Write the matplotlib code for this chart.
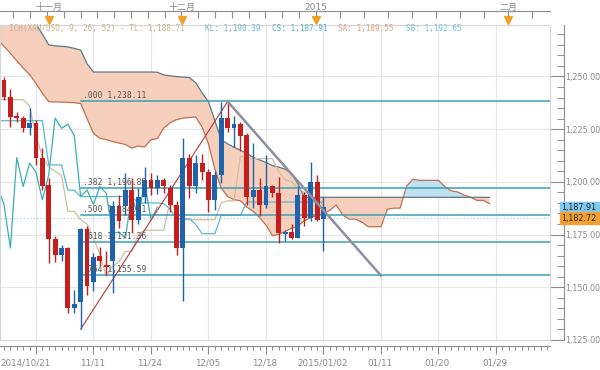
import matplotlib
matplotlib.use("Agg")
import numpy as np
from matplotlib import pyplot as plt
from matplotlib import transforms as mtrans
from matplotlib.patches import Rectangle
from matplotlib.ticker import MultipleLocator, FixedLocator, NullFormatter, FuncFormatter

plt.rcParams['font.family'] = ['DejaVu Sans', 'Noto Sans CJK SC']

# daily candles, bar 0 = first visible candle
opens = [1248.3, 1240.4, 1231.3, 1230.5, 1225.4, 1227.8, 1211.5, 1198.6, 1173.0, 1165.1,
         1168.6, 1140.1, 1143.0, 1177.7, 1152.6, 1164.6, 1160.7, 1162.2, 1188.3, 1188.3,
         1196.2, 1182.0, 1193.0, 1201.0, 1197.0, 1201.0, 1197.0, 1189.1, 1168.6, 1211.5,
         1197.8, 1208.9, 1204.6, 1191.5, 1203.3, 1230.2, 1225.4, 1227.3, 1222.3, 1193.0,
         1196.2, 1189.1, 1197.8, 1194.6, 1175.2, 1176.2, 1173.3, 1193.8, 1182.8, 1199.9,
         1182.5]
highs = [1249.5, 1244.0, 1233.3, 1231.0, 1234.9, 1229.4, 1216.0, 1201.8, 1174.1, 1170.1,
         1169.3, 1148.8, 1178.0, 1178.8, 1166.0, 1169.3, 1167.0, 1190.7, 1193.8, 1204.1,
         1201.8, 1197.0, 1207.2, 1204.0, 1203.0, 1201.8, 1198.6, 1190.7, 1220.7, 1213.1,
         1212.8, 1213.1, 1206.2, 1205.2, 1237.8, 1238.1, 1231.4, 1228.6, 1223.0, 1218.3,
         1201.8, 1212.8, 1198.6, 1202.5, 1177.0, 1180.0, 1197.8, 1195.4, 1209.6, 1203.3,
         1193.0]
lows = [1239.0, 1226.0, 1228.6, 1223.6, 1222.3, 1208.0, 1196.2, 1161.5, 1162.0, 1162.2,
        1137.8, 1137.8, 1130.1, 1146.4, 1148.0, 1160.7, 1155.9, 1147.2, 1178.2, 1184.4,
        1175.7, 1180.0, 1190.0, 1193.8, 1194.0, 1194.6, 1185.9, 1165.4, 1143.3, 1192.3,
        1194.6, 1200.9, 1185.9, 1186.7, 1199.4, 1223.8, 1216.7, 1214.4, 1189.0, 1187.5,
        1183.6, 1187.5, 1193.0, 1170.9, 1172.0, 1173.0, 1173.3, 1178.8, 1181.2, 1181.2,
        1167.0]
closes = [1240.4, 1230.9, 1230.2, 1225.4, 1227.8, 1211.5, 1198.2, 1173.0, 1165.1, 1168.6,
          1140.1, 1142.0, 1177.7, 1150.5, 1164.1, 1162.2, 1159.4, 1188.3, 1181.2, 1196.2,
          1182.0, 1193.0, 1201.0, 1197.0, 1201.0, 1197.8, 1189.1, 1168.6, 1211.5, 1197.8,
          1208.9, 1204.6, 1191.5, 1203.3, 1230.2, 1225.4, 1227.3, 1221.9, 1193.0, 1196.2,
          1189.1, 1197.8, 1194.6, 1175.7, 1176.2, 1173.3, 1193.8, 1182.8, 1199.9, 1182.0,
          1187.91]

# ichimoku lines, starting at bar -1
tenkan = [1239, 1239, 1239, 1239, 1239, 1236, 1222, 1212, 1207, 1205, 1203, 1186, 1186,
          1182, 1180, 1173, 1166, 1155, 1160, 1162, 1167, 1167, 1175, 1177, 1177, 1177,
          1177, 1191, 1186, 1182, 1182, 1182, 1182, 1182, 1182, 1190, 1191, 1191, 1212,
          1212, 1211, 1211, 1211, 1211, 1205, 1201, 1200, 1197, 1195, 1192, 1192, 1188.71]
kijun = [1229, 1229, 1229, 1229, 1229, 1229, 1229, 1229, 1208, 1208, 1208, 1196, 1196,
         1193, 1193, 1193, 1193, 1193, 1193, 1193, 1193, 1193, 1190, 1190, 1190, 1190,
         1189.6, 1187, 1182.5, 1182.5, 1182.5, 1179.8, 1175.4, 1175.4, 1175.4, 1184.1,
         1184.1, 1184.1, 1184.1, 1190.4, 1190.4, 1190.4, 1190.4, 1190.4, 1190.4, 1190.4,
         1190.4, 1190.4, 1190.4, 1190.4, 1190.4, 1190.39]
senkou_a = [1267.5, 1264.3, 1261.0, 1257.4, 1254.0, 1250.9, 1246.7, 1242.0, 1238.0, 1237.9,
            1237.8, 1237.7, 1237.5, 1237.2, 1230.0, 1223.0, 1220.7, 1220.0, 1219.1, 1218.4,
            1217.7, 1216.0, 1217.0, 1216.5, 1220.0, 1220.5, 1225.5, 1228.0, 1229.5, 1230.2,
            1230.5, 1230.8, 1226.0, 1218.0, 1206.0, 1197.0, 1193.0, 1191.5, 1191.0, 1188.0,
            1186.0, 1183.0, 1179.5, 1174.5, 1175.0, 1176.5, 1178.0, 1179.0, 1181.5, 1183.0,
            1184.0, 1185.0, 1186.5, 1189.0, 1184.3, 1182.3, 1182.3, 1180.9, 1178.7, 1178.7,
            1178.7, 1187.0, 1187.5, 1187.5, 1198.0, 1201.2, 1200.7, 1200.7, 1200.7, 1200.7,
            1197.7, 1195.7, 1195.2, 1193.7, 1192.7, 1191.2, 1191.2, 1189.55]
senkou_b = [1281.5, 1280.0, 1279.0, 1278.0, 1277.5, 1276.5, 1275.0, 1270.0, 1265.0, 1264.5,
            1264.3, 1264.0, 1263.3, 1262.5, 1256.0, 1252.1, 1252.1, 1252.1, 1252.1, 1252.1,
            1252.1, 1252.1, 1252.1, 1252.1, 1252.1, 1252.0, 1250.7, 1250.3, 1249.9, 1249.7,
            1249.5, 1247.0, 1242.2, 1238.0, 1229.0, 1220.0, 1218.0, 1216.4, 1215.0, 1213.5,
            1211.6, 1210.4, 1209.2, 1207.7, 1207.0, 1206.0, 1204.0, 1199.0] + [1192.65] * 30

fib_high = 1238.11
fib_low = 1130.10
fib_ratios = [0.0, 0.382, 0.5, 0.618, 0.764]
fib_start, fib_end = 12, 35          # bars of the swing low / high
trend_end = (59, 1155.5)             # end of the gray down trend line

last_price = 1187.91
bid_price = 1182.72
header = [("ICH(XAU/USD, 9, 26, 52) - TL: 1,188.71", "#c6b58c"),
          ("KL: 1,190.39", "#6cb8cc"),
          ("CS: 1,187.91", "#52b0c4"),
          ("SA: 1,189.55", "#e39c7c"),
          ("SB: 1,192.65", "#7cc2da")]
header_x = [9, 205, 272, 338, 406]

date_labels = ["2014/10/21", "11/11", "11/24", "12/05", "12/18", "2015/01/02", "01/11", "01/20", "01/29"]
date_bars = [5, 14, 23, 32, 41, 50, 59, 68, 77]
month_labels = ["十一月", "十二月", "2015", "二月"]
month_bars = [7.0, 27.9, 48.8, 78.9]

n = len(closes)
bars = np.arange(n)
ichi_x = np.arange(-1, n)
cloud_x = np.arange(-1, n + 26)
chikou_x = np.arange(-1, n - 26)

W, H = 600, 370
fig = plt.figure(figsize=(6, 3.7), dpi=100)
ax = fig.add_axes([0 / W, 30 / H, 550 / W, 315 / H])
ax.set_xlim(-0.626, 85.45)
ax.set_ylim(1124.95, 1274.4)

# grid
for b in date_bars:
    ax.axvline(b, color="#e6e6e6", lw=0.8, zorder=0.5)
for v in range(1125, 1275, 25):
    ax.axhline(v, color="#e6e6e6", lw=0.8, zorder=0.5)

# cloud
sa = np.array(senkou_a)
sb = np.array(senkou_b)
ax.fill_between(cloud_x, sa, sb, where=sb >= sa, interpolate=True, color="#f7cfbd", lw=0, zorder=1)
ax.fill_between(cloud_x, sa, sb, where=sa > sb, interpolate=True, color="#bde2f1", lw=0, zorder=1)
ax.plot(cloud_x, sa, color="#bf6f50", lw=0.9, zorder=2)
ax.plot(cloud_x, sb, color="#5f7888", lw=0.9, zorder=2)

# tenkan / kijun / chikou
ax.plot(ichi_x, tenkan, color="#cfc09c", lw=0.9, zorder=2)
ax.plot(ichi_x, kijun, color="#5cb8cb", lw=0.9, zorder=2)
ax.plot(chikou_x, closes[25:], color="#3aafb3", lw=0.9, zorder=2)

# fibonacci levels
for r in fib_ratios:
    lvl = fib_high - r * (fib_high - fib_low)
    ax.plot([fib_start, ax.get_xlim()[1]], [lvl, lvl], color="#3c9fb5", lw=1.1, zorder=2.5)
    ax.text(fib_start + 0.3, lvl + 0.6, f"{r:.3f}"[1:] + f" {lvl:,.2f}",
            fontsize=5.8, family="DejaVu Sans Mono", color="#555555", va="bottom", zorder=5)
ax.plot([fib_start, fib_end], [fib_low, fib_high], color="#b23a3a", lw=0.8, zorder=2.6)
ax.plot([fib_end, trend_end[0]], [fib_high, trend_end[1]], color="#8d8fa0", lw=1.8, zorder=4)

ax.axhline(bid_price, color="#8fcfe2", lw=0.8, ls=(0, (1, 2)), zorder=2)

# candles
for i, o, h, l, c in zip(bars, opens, highs, lows, closes):
    col = "#1f63ad" if c >= o else "#c41e1e"
    ax.vlines(i, l, h, color=col, lw=1, zorder=3)
    ax.bar(i, max(abs(c - o), 0.6), bottom=min(o, c), width=0.76, color=col, lw=0, zorder=3)

# axes styling
for s in ["left", "top"]:
    ax.spines[s].set_visible(False)
ax.spines["right"].set_position(("outward", 10))
ax.spines["bottom"].set_position(("outward", 4))
for s in ["right", "bottom"]:
    ax.spines[s].set_color("#8c8c8c")
ax.add_patch(Rectangle((0, 0), 1, 1, transform=ax.transAxes, fill=False, ec="#d6d6d6", lw=0.8, clip_on=False, zorder=6))

ax.yaxis.tick_right()
ax.yaxis.set_major_locator(MultipleLocator(25))
ax.yaxis.set_minor_locator(MultipleLocator(5))
ax.yaxis.set_major_formatter(FuncFormatter(lambda v, p: f"{v:,.2f}"))
ax.tick_params(axis="y", which="major", direction="in", length=10, width=0.8, color="#8c8c8c",
               labelsize=5.8, labelcolor="#888888", pad=1)
ax.tick_params(axis="y", which="minor", direction="in", length=5, width=0.7, color="#8c8c8c")

ax.xaxis.set_major_locator(FixedLocator(date_bars))
ax.xaxis.set_minor_locator(MultipleLocator(1))
ax.xaxis.set_major_formatter(NullFormatter())
ax.tick_params(axis="x", which="major", direction="out", length=6, width=0.8, color="#8c8c8c")
ax.tick_params(axis="x", which="minor", direction="out", length=3, width=0.7, color="#8c8c8c")

bx = mtrans.blended_transform_factory(ax.transData, ax.transAxes)
for k, (lab, b) in enumerate(zip(date_labels, date_bars)):
    if k == 0:
        ax.text(0.001, -23 / 315, lab, transform=ax.transAxes, ha="left", va="center", fontsize=6.3, color="#888888")
    else:
        ax.text(b - 0.2, -23 / 315, lab, transform=bx, ha="center", va="center", fontsize=6.3, color="#888888")

# top month axis
axt = ax.twiny()
axt.set_xlim(ax.get_xlim())
for s in ["left", "right", "bottom"]:
    axt.spines[s].set_visible(False)
axt.spines["top"].set_position(("outward", 10))
axt.spines["top"].set_color("#8c8c8c")
week_ticks = np.concatenate([np.arange(month_bars[2], -0.6, -2.63)[::-1], np.arange(month_bars[2] + 3.76, 86, 3.76)])
axt.xaxis.set_major_locator(FixedLocator(week_ticks))
axt.xaxis.set_major_formatter(NullFormatter())
axt.tick_params(axis="x", which="major", direction="in", length=5, width=0.8, color="#8c8c8c")
tx = mtrans.blended_transform_factory(axt.transData, axt.transAxes)
axt.plot(month_bars, [1 + 5.5 / 315] * len(month_bars), ls="none", marker="v", ms=6,
         color="#f0a028", transform=tx, clip_on=False, zorder=7)
for lab, b in zip(month_labels, month_bars):
    axt.text(b, 1 + 18 / 315, lab, transform=tx, ha="center", va="center", fontsize=6.5, color="#888888",
             family=["DejaVu Sans", "Noto Sans CJK SC"])

# header line
for (txt, col), px in zip(header, header_x):
    fig.text(px / W, 1 - 29 / H, txt, fontsize=5.6, family="DejaVu Sans Mono", color=col, va="center")

# last price tags on the right axis
ty = mtrans.blended_transform_factory(ax.transAxes, ax.transData)
for price, face in [(last_price, "#7fcbf0"), (bid_price, "#f2a131")]:
    ax.add_patch(Rectangle((560 / 550, price - 2.75), 0.1, 5.5, transform=ty, color=face, clip_on=False, zorder=8))
    ax.text(561.5 / 550, price, f"{price:,.2f}", transform=ty, fontsize=5.8, color="#222222",
            va="center", ha="left", clip_on=False, zorder=9)

fig.savefig("out.png", dpi=100)
